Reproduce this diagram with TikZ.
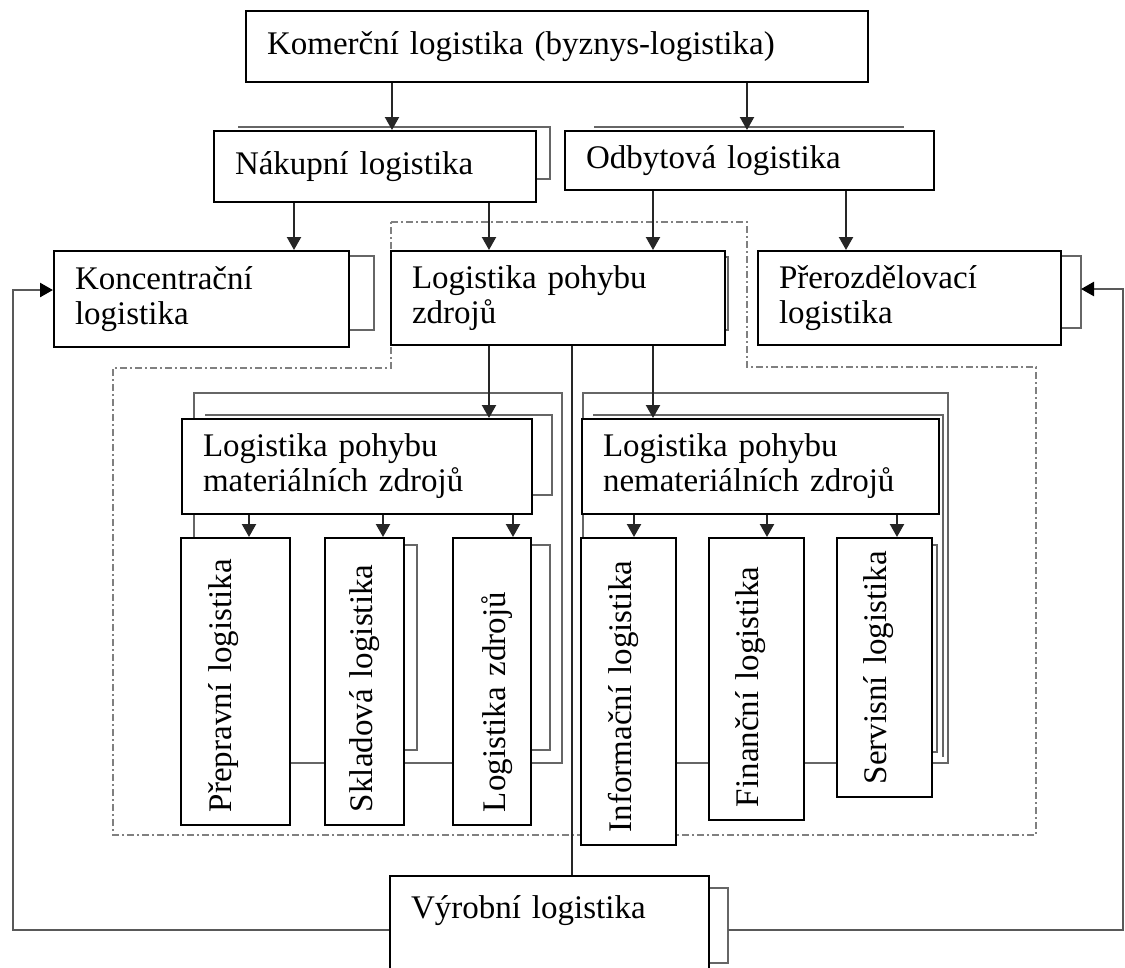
\documentclass[tikz,border=0pt]{standalone}
\usepackage{fontspec}
\setmainfont{Liberation Serif}
\usetikzlibrary{arrows.meta,calc,backgrounds}
\begin{document}
\begin{tikzpicture}[x=1pt,y=-1pt,
  box/.style={draw=black,line width=2pt,fill=white,inner ysep=0pt,inner xsep=21pt,
    align=left,anchor=north west,font=\fontsize{33}{35}\selectfont},
  vbox/.style={draw=black,line width=2pt,fill=white,inner ysep=0pt,inner xsep=13pt,
    align=left,rotate=90,anchor=center,font=\fontsize{33}{35}\selectfont,
    text height=0pt,text depth=0pt},
  arr/.style={draw=black!85,line width=2.2pt,-{Triangle[width=14pt,length=13pt]}},
  gline/.style={draw=black!60,line width=2.5pt},
  dline/.style={draw=black!85,line width=2.2pt},
  dd/.style={draw=black!50,line width=2.8pt,dash pattern=on 7pt off 3pt on 2pt off 3pt},
  fb/.style={draw=black!65,line width=2.5pt},
  fbarr/.style={fb,-{Triangle[width=14pt,length=13pt,color=black]}},
]
\useasboundingbox (0,0) rectangle (1125,967);

% ---------- boxes ----------
\node[box,text width=580pt,minimum height=71pt] (kom) at (245,10) {Komerční logistika (byznys-logistika)};
\node[box,text width=280pt,minimum height=71pt] (nak) at (213,130) {Nákupní logistika};
\node[box,text width=327pt,minimum height=59pt] (odb) at (564,130) {Odbytová logistika};
\node[box,text width=253pt,minimum height=96pt] (konc) at (53,250) {Koncentrační\\logistika};
\node[box,text width=292pt,minimum height=94pt] (lpz) at (390,250) {Logistika pohybu\\zdrojů};
\node[box,text width=261pt,minimum height=94pt] (prz) at (757,250) {Přerozdělovací\\logistika};
\node[box,text width=308pt,minimum height=95pt] (mat) at (181,418) {Logistika pohybu\\materiálních zdrojů};
\node[box,text width=315pt,minimum height=95pt] (nem) at (581,418) {Logistika pohybu\\nemateriálních zdrojů};
\node[box,text width=277pt,text height=42pt,text depth=63pt] (vyr) at (389,875) {Výrobní logistika};

\node[vbox,text width=261pt,minimum height=109pt] (pre) at (235.5,681.5) {\raisebox{4pt}{Přepravní logistika}};
\node[vbox,text width=261pt,minimum height=79pt] (skl) at (364.5,681.5) {\raisebox{-8pt}{Skladová logistika}};
\node[vbox,text width=261pt,minimum height=78pt] (lzd) at (492,681.5) {\raisebox{-13pt}{Logistika zdrojů}};
\node[vbox,text width=281pt,minimum height=95pt] (inf) at (628.5,691.5) {\raisebox{-3pt}{Informační logistika}};
\node[vbox,text width=256pt,minimum height=95pt] (fin) at (756.5,679) {\raisebox{-2pt}{Finanční logistika}};
\node[vbox,text width=233pt,minimum height=95pt] (ser) at (884.5,667.5) {\raisebox{-2pt}{Servisní logistika}};

% ---------- helper coordinates ----------
\coordinate (xa) at (392,0);
\coordinate (xb) at (747,0);
\coordinate (xc) at (294,0);
\coordinate (xd) at (489,0);
\coordinate (xe) at (653,0);
\coordinate (xf) at (846,0);
\coordinate (xg) at (249,0);
\coordinate (xh) at (383,0);
\coordinate (xi) at (513,0);
\coordinate (xj) at (634,0);
\coordinate (xk) at (767,0);
\coordinate (xl) at (897,0);
\coordinate (xm) at (572,0);
\coordinate (lb) at (13,930);
\coordinate (rb) at (1123,930);
\coordinate (vb) at (728,930);
\coordinate (pb) at (1081,289);

% ---------- background lines ----------
\begin{pgfonlayer}{background}
\fill[white] (0,0) rectangle (1125,967);
% dash-dot outline
\draw[dd] (391,222) -- (747,222) -- (747,367) -- (1036,367) -- (1036,835)
  -- (113,835) -- (113,368) -- (391,368) -- cycle;
% grey brackets of the upper boxes
\draw[gline] (238,127) -- (550,127) -- (550,179) -- (535,179);
\draw[gline] (594,127) -- (904,127);
\draw[gline] (348,256) -| (374,330) -- (348,330);
\draw[gline] (724,257) -| (728,330) -- (724,330);
\draw[gline] (1060,256) -| (1081,328) -- (1060,328);
\draw[gline] (708,888) -| (728,963) -- (708,963);
% material group
\draw[gline] (194,393) rectangle (562,763);
\draw[gline] (205,415) -| (552,495) -- (531,495);
\draw[gline] (404,545) -| (417,750) -- (404,750);
\draw[gline] (531,545) -| (550,750) -- (531,750);
% non-material group
\draw[gline] (583,393) rectangle (948,763);
\draw[gline] (593,415) -- (943,415) -- (943,757);
\draw[gline] (932,545) -| (937,752) -- (932,752);
% central line
\draw[dline] (xm |- lpz.south) -- (xm |- vyr.north);
% feedback loops
\draw[fbarr] (vyr.west |- lb) -- (lb) |- ($(konc.west)+(0,-9)$);
\draw[fbarr] (vb) -- (rb) |- (pb);
\end{pgfonlayer}

% ---------- arrows ----------
\draw[arr] (xa |- kom.south) -- (xa |- nak.north);
\draw[arr] (xb |- kom.south) -- (xb |- odb.north);
\draw[arr] (xc |- nak.south) -- (xc |- konc.north);
\draw[arr] (xd |- nak.south) -- (xd |- lpz.north);
\draw[arr] (xe |- odb.south) -- (xe |- lpz.north);
\draw[arr] (xf |- odb.south) -- (xf |- prz.north);
\draw[arr] (xd |- lpz.south) -- (xd |- mat.north);
\draw[arr] (xe |- lpz.south) -- (xe |- nem.north);
\draw[arr] (xg |- mat.south) -- (xg |- pre.east);
\draw[arr] (xh |- mat.south) -- (xh |- skl.east);
\draw[arr] (xi |- mat.south) -- (xi |- lzd.east);
\draw[arr] (xj |- nem.south) -- (xj |- inf.east);
\draw[arr] (xk |- nem.south) -- (xk |- fin.east);
\draw[arr] (xl |- nem.south) -- (xl |- ser.east);
\end{tikzpicture}
\end{document}
